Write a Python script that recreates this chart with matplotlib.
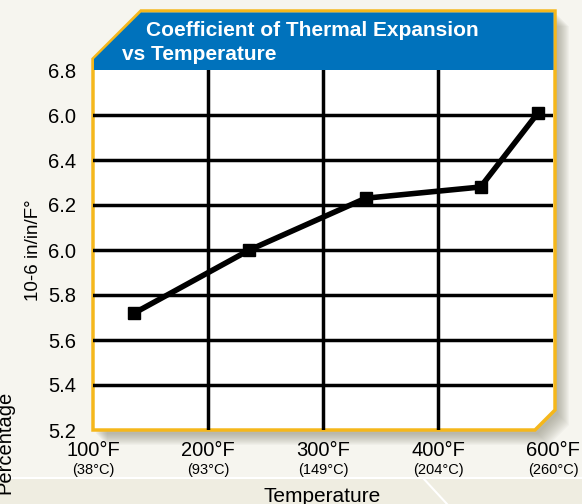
import matplotlib.pyplot as plt
from matplotlib.patches import Polygon
from matplotlib.transforms import blended_transform_factory

# data
x_pos = [0.36, 1.36, 2.37, 3.37, 3.87]
coef = [5.72, 6.00, 6.23, 6.28, 6.61]
x_ticks = [0, 1, 2, 3, 4]
temp_f = ["100°F", "200°F", "300°F", "400°F", "600°F"]
temp_c = ["(38°C)", "(93°C)", "(149°C)", "(204°C)", "(260°C)"]
y_ticks = [5.2, 5.4, 5.6, 5.8, 6.0, 6.2, 6.4, 6.6, 6.8]
y_labels = ["5.2", "5.4", "5.6", "5.8", "6.0", "6.2", "6.4", "6.0", "6.8"]

plt.rcParams['font.family'] = ['Liberation Sans', 'DejaVu Sans']

W, H = 582, 504
fig = plt.figure(figsize=(W / 100, H / 100), dpi=100)
fig.patch.set_facecolor("#f6f5ef")


def px(x, y):
    return (x / W, 1 - y / H)


# darker strip at the bottom
fig.patches.append(Polygon([px(0, 478), px(W, 478), px(W, H), px(0, H)],
                           closed=True, transform=fig.transFigure,
                           facecolor="#efede1", edgecolor="none", zorder=0))
fig.lines.append(plt.Line2D([0, 1], [1 - 478 / H] * 2, transform=fig.transFigure,
                            color="white", lw=1.5, zorder=1))
fig.lines.append(plt.Line2D([423 / W, 447 / W], [1 - 478 / H, 0], transform=fig.transFigure,
                            color="white", lw=1.5, zorder=1))

panel = [(93, 59), (141, 11), (555, 11), (555, 410), (535, 430), (93, 430)]

# soft shadow
for i in range(12, 0, -1):
    pts = [px(x + i * 1.0 + 2, y + i * 1.0 + 3) for x, y in panel]
    fig.patches.append(Polygon(pts, closed=True, transform=fig.transFigure,
                               facecolor="#7d7a6a", edgecolor="none",
                               alpha=0.05, zorder=1))

fig.patches.append(Polygon([px(x, y) for x, y in panel], closed=True,
                           transform=fig.transFigure, facecolor="white",
                           edgecolor="#f5b71b", lw=2.5, zorder=2))

# blue title box
title_box = [(94, 59), (141, 12.5), (553.5, 12.5), (553.5, 70), (94, 70)]
fig.patches.append(Polygon([px(x, y) for x, y in title_box], closed=True,
                           transform=fig.transFigure, facecolor="#0072bc",
                           edgecolor="none", zorder=3))
fig.text(146 / W, 1 - 31 / H, "Coefficient of Thermal Expansion", color="white",
         fontsize=15, fontweight="bold", va="center", ha="left", zorder=4)
fig.text(122 / W, 1 - 54 / H, "vs Temperature", color="white",
         fontsize=15, fontweight="bold", va="center", ha="left", zorder=4)

ax = fig.add_axes([93 / W, 74 / H, 460 / W, 360 / H])
ax.set_facecolor("none")
ax.set_zorder(5)
for s in ax.spines.values():
    s.set_visible(False)

ax.set_xlim(0, 4)
ax.set_ylim(5.2, 6.8)

for v in x_ticks[1:-1]:
    ax.axvline(v, color="black", lw=2.5, zorder=1)
for v in y_ticks[1:-1]:
    ax.axhline(v, color="black", lw=2.5, zorder=1)

ax.plot(x_pos, coef, color="black", lw=4, marker="s", markersize=9, zorder=3)

ax.set_yticks(y_ticks)
ax.set_yticklabels(y_labels, fontsize=14.5)
ax.set_xticks(x_ticks)
ax.set_xticklabels(temp_f, fontsize=14.5)
ax.tick_params(axis="both", length=0)
ax.tick_params(axis="y", pad=12)
ax.tick_params(axis="x", pad=8)

trans = blended_transform_factory(ax.transData, ax.transAxes)
for xv, lab in zip(x_ticks, temp_c):
    ax.text(xv, -0.112, lab, transform=trans, ha="center", va="center", fontsize=10.5)

fig.text(33 / W, 1 - 250 / H, "10-6 in/in/F°", rotation=90, fontsize=13.5,
         ha="center", va="center")
fig.text(5 / W, 1 - 442 / H, "Percentage", rotation=90, fontsize=14.5,
         ha="center", va="center")
fig.text(322 / W, 1 - 496 / H, "Temperature", fontsize=15,
         ha="center", va="center")

fig.savefig("out.png", dpi=100, facecolor=fig.get_facecolor())
plt.close(fig)
